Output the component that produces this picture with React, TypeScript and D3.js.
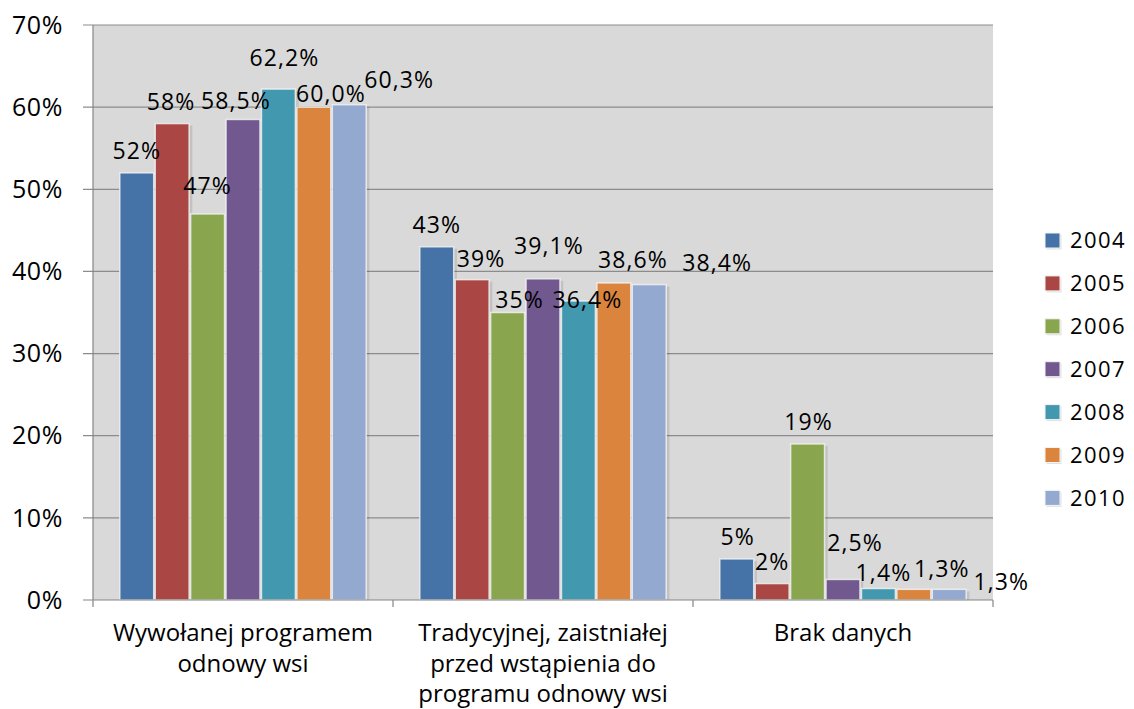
import React, { useEffect, useRef } from "react";
import * as d3 from "d3";

const categories = [
  "Wywołanej programem\nodnowy wsi",
  "Tradycyjnej, zaistniałej\nprzed wstąpienia do\nprogramu odnowy wsi",
  "Brak danych",
];
const years = ["2004", "2005", "2006", "2007", "2008", "2009", "2010"];

const v2004 = [52, 43, 5];
const v2005 = [58, 39, 2];
const v2006 = [47, 35, 19];
const v2007 = [58.5, 39.1, 2.5];
const v2008 = [62.2, 36.4, 1.4];
const v2009 = [60.0, 38.6, 1.3];
const v2010 = [60.3, 38.4, 1.3];
const seriesValues = [v2004, v2005, v2006, v2007, v2008, v2009, v2010];
// decimals shown in the data labels per year
const labelDecimals = [0, 0, 0, 1, 1, 1, 1];

const yTicks = [0, 10, 20, 30, 40, 50, 60, 70];
const colors = ["#4572A7", "#AA4643", "#89A54E", "#71588F", "#4198AF", "#DB843D", "#93A9CF"];

// hand-moved labels in the source chart: [dx, dy] from the usual spot, per year & category
const labelNudge = [
  [[0, 0], [0, 0], [1, 0]],
  [[-1, 0], [9, 1], [0, 0]],
  [[0, -6], [12, 9], [1, 0]],
  [[-7, 3], [6, -11], [12, -15]],
  [[6, -9], [9, 21], [5, 6]],
  [[17, 9], [19, -1], [28, 1]],
  [[50, -3], [68, 0], [52, 14]],
];

const App = () => {
  const svgRef = useRef();

  useEffect(() => {
    const width = 1134;
    const height = 709;
    const left = 93;
    const right = 993;
    const top = 25;
    const bottom = 600;
    const font = "'Open Sans', sans-serif";

    const svg = d3.select(svgRef.current);
    svg.selectAll("*").remove();
    svg.attr("width", width).attr("height", height).style("font-family", font);

    const x0 = d3.scaleBand().domain(categories).range([left, right]).padding(0);
    const x1 = d3
      .scaleBand()
      .domain(years)
      .range([0, x0.bandwidth()])
      .paddingInner(0)
      .paddingOuter(0.735);
    const y = d3.scaleLinear().domain([0, 70]).range([bottom, top]);

    svg
      .append("rect")
      .attr("x", left)
      .attr("y", top)
      .attr("width", right - left)
      .attr("height", bottom - top)
      .attr("fill", "#D9D9D9");

    // gridlines + left ticks
    svg
      .append("g")
      .selectAll("line")
      .data(yTicks.filter((t) => t > 0))
      .join("line")
      .attr("x1", left - 10)
      .attr("x2", right)
      .attr("y1", (d) => y(d))
      .attr("y2", (d) => y(d))
      .attr("stroke", "#8C8C8C")
      .attr("stroke-width", 1.2);

    svg
      .append("g")
      .selectAll("text")
      .data(yTicks)
      .join("text")
      .attr("x", 63)
      .attr("y", (d) => y(d))
      .attr("dy", "0.35em")
      .attr("text-anchor", "end")
      .style("font-size", "25px")
      .style("letter-spacing", "0.6px")
      .text((d) => `${d}%`);

    const cells = years.flatMap((yr, si) =>
      seriesValues[si].map((v, ci) => ({ yr, si, ci, v }))
    );
    const barX = (d) => x0(categories[d.ci]) + x1(d.yr);

    // bar shadows
    svg
      .append("g")
      .selectAll("rect")
      .data(cells)
      .join("rect")
      .attr("x", (d) => barX(d) + 2.5)
      .attr("y", (d) => y(d.v) + 2)
      .attr("width", x1.bandwidth())
      .attr("height", (d) => bottom - y(d.v) - 2)
      .attr("fill", "#000")
      .attr("opacity", 0.1);

    // bars
    svg
      .append("g")
      .selectAll("rect")
      .data(cells)
      .join("rect")
      .attr("x", (d) => barX(d) + 0.75)
      .attr("y", (d) => y(d.v))
      .attr("width", x1.bandwidth() - 1.5)
      .attr("height", (d) => bottom - y(d.v))
      .attr("fill", (d) => colors[d.si])
      .attr("stroke", "#F4F4F4")
      .attr("stroke-opacity", 0.8)
      .attr("stroke-width", 1.5);

    // axes
    svg
      .append("line")
      .attr("x1", left)
      .attr("x2", left)
      .attr("y1", top)
      .attr("y2", bottom + 7)
      .attr("stroke", "#868686")
      .attr("stroke-width", 1.2);
    svg
      .append("line")
      .attr("x1", left - 10)
      .attr("x2", right)
      .attr("y1", bottom)
      .attr("y2", bottom)
      .attr("stroke", "#868686")
      .attr("stroke-width", 1.2);
    svg
      .append("g")
      .selectAll("line")
      .data(categories)
      .join("line")
      .attr("x1", (d) => x0(d) + x0.bandwidth())
      .attr("x2", (d) => x0(d) + x0.bandwidth())
      .attr("y1", bottom)
      .attr("y2", bottom + 7)
      .attr("stroke", "#868686")
      .attr("stroke-width", 1.2);

    // data labels, above every bar
    const fmt = (d) => d.v.toFixed(labelDecimals[d.si]).replace(".", ",") + "%";
    svg
      .append("g")
      .selectAll("text")
      .data(cells)
      .join("text")
      .attr("x", (d) => barX(d) + x1.bandwidth() / 2 + labelNudge[d.si][d.ci][0])
      .attr("y", (d) => y(d.v) - 22 + labelNudge[d.si][d.ci][1])
      .attr("dy", "0.36em")
      .attr("text-anchor", "middle")
      .style("font-size", "23px")
      .style("letter-spacing", "1.1px")
      .text(fmt);

    // category labels
    svg
      .append("g")
      .selectAll("text")
      .data(categories)
      .join("text")
      .attr("text-anchor", "middle")
      .style("font-size", "24px")
      .each(function (c) {
        d3.select(this)
          .selectAll("tspan")
          .data(c.split("\n"))
          .join("tspan")
          .attr("x", x0(c) + x0.bandwidth() / 2)
          .attr("y", (d, i) => 641 + i * 30.5)
          .text((d) => d);
      });

    // legend
    const legend = svg
      .append("g")
      .selectAll("g")
      .data(years)
      .join("g")
      .attr("transform", (d, i) => `translate(1045, ${240.5 + i * 42.9})`);
    legend
      .append("rect")
      .attr("x", 1.5)
      .attr("y", -6)
      .attr("width", 15)
      .attr("height", 15)
      .attr("fill", "#000")
      .attr("opacity", 0.12);
    legend
      .append("rect")
      .attr("x", 0)
      .attr("y", -7.5)
      .attr("width", 15)
      .attr("height", 15)
      .attr("fill", (d, i) => colors[i])
      .attr("stroke", "#F4F4F4")
      .attr("stroke-width", 1);
    legend
      .append("text")
      .attr("x", 25)
      .attr("dy", "0.36em")
      .style("font-size", "22px")
      .style("letter-spacing", "1.4px")
      .text((d) => d);
  }, []);

  return (
    <div style={{ position: "absolute", left: 0, top: 0, background: "#fff" }}>
      <svg ref={svgRef} style={{ display: "block" }}></svg>
    </div>
  );
};

export default App;
